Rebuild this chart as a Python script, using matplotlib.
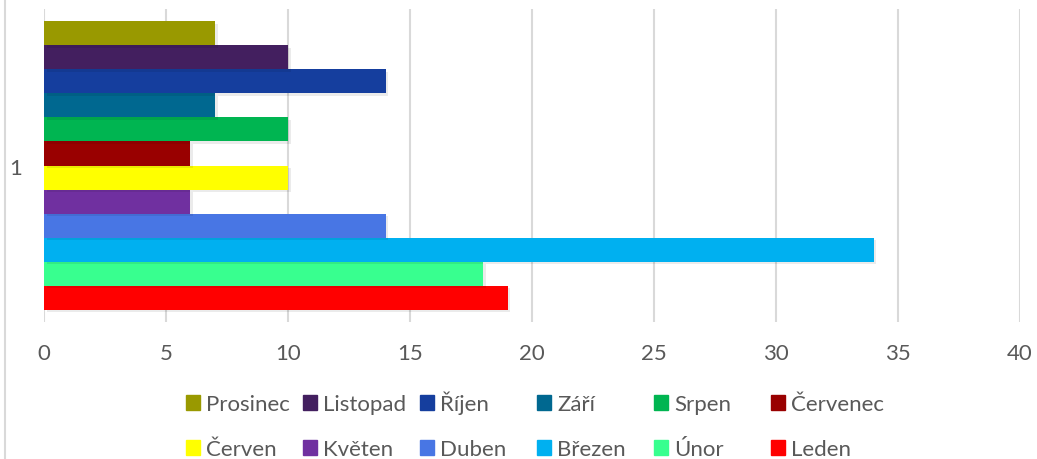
import matplotlib
matplotlib.use("Agg")
import matplotlib.pyplot as plt
import matplotlib.patheffects as pe
from matplotlib.lines import Line2D
from matplotlib.patches import Patch
import numpy as np

plt.rcParams['font.family'] = ['Lato', 'DejaVu Sans']

# order from bottom bar to top bar
months = ["Leden", "Únor", "Březen", "Duben", "Květen", "Červen",
          "Červenec", "Srpen", "Září", "Říjen", "Listopad", "Prosinec"]
values = [19, 18, 34, 14, 6, 10, 6, 10, 7, 14, 10, 7]
colors = ["#FF0000", "#38FF8F", "#00B0F0", "#4876E4", "#7030A0", "#FFFF00",
          "#990000", "#00B551", "#006890", "#153E9E", "#431F5F", "#999900"]
category = ["1"]
xticks = [0, 5, 10, 15, 20, 25, 30, 35, 40]

grey = "#595959"
fs = 16

fig = plt.figure(figsize=(10.37, 4.6), dpi=100)
ax = fig.add_axes([44/1037, 1-323/460, (1020-44)/1037, 313/460])

n = len(months)
offsets = np.arange(n) - (n - 1) / 2
for i in range(n):
    ax.barh(offsets[i], values[i], height=1.0, color=colors[i], zorder=3,
            path_effects=[pe.SimplePatchShadow(offset=(2, -1.5), shadow_rgbFace="#000000", alpha=0.08), pe.Normal()])

ax.set_xlim(0, 40)
ax.set_ylim(-6.52, 6.52)
ax.set_xticks(xticks)
ax.set_xticklabels([str(t) for t in xticks], fontsize=fs, color=grey)
ax.set_yticks([0])
ax.set_yticklabels(category, fontsize=fs, color=grey)
ax.tick_params(axis='both', length=0)
ax.tick_params(axis='x', pad=15)
ax.tick_params(axis='y', pad=16)
ax.grid(axis='x', color="#D9D9D9", linewidth=1.5, zorder=0)
for s in ax.spines.values():
    s.set_visible(False)

# legend: 2 rows x 6 columns on an even grid, like the original
rows = [["Prosinec", "Listopad", "Říjen", "Září", "Srpen", "Červenec"],
        ["Červen", "Květen", "Duben", "Březen", "Únor", "Leden"]]
baselines = [411, 456]
cmap = dict(zip(months, colors))
for r, row in enumerate(rows):
    for j, name in enumerate(row):
        leg = fig.legend([Patch(color=cmap[name])], [name], loc='lower left',
                         bbox_to_anchor=((186 + 117 * j) / 1037, 1 - (baselines[r] + 4.5) / 460),
                         frameon=False, fontsize=fs, labelcolor=grey,
                         handlelength=0.63, handleheight=0.63, handletextpad=0.27,
                         borderaxespad=0, borderpad=0)

fig.add_artist(Line2D([5/1037, 5/1037], [0, 1], color="#D9D9D9", linewidth=1.5))

plt.savefig("out.png", dpi=100)
